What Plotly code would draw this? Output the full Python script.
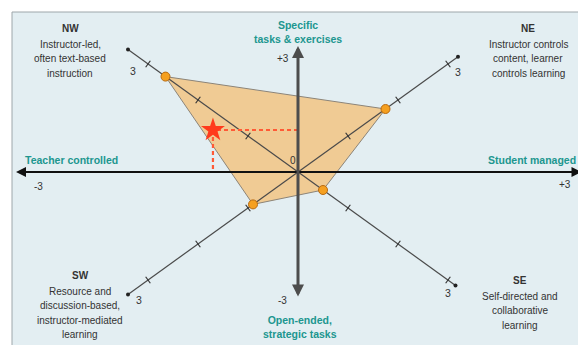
import numpy as np
import plotly.graph_objects as go

# ======================== DATA ========================
# learner-profile scores on the four diagonal axes (0..3)
quadrants = ["NW", "NE", "SE", "SW"]
profile = [2.65, 1.75, 0.5, 0.9]
diag_ticks = [1, 2, 3]

# main axes position of the star (teacher/student, open/specific)
star_x = [-0.9]
star_y = [1.0]

quad_titles = {"NW": "NW", "NE": "NE", "SE": "SE", "SW": "SW"}
quad_text = {
    "NW": ["Instructor-led,", "often text-based", "instruction"],
    "NE": ["Instructor controls", "content, learner", "controls learning"],
    "SE": ["Self-directed and", "collaborative", "learning"],
    "SW": ["Resource and", "discussion-based,", "instructor-mediated", "learning"],
}
axis_titles = {
    "top": "Specific<br>tasks & exercises",
    "bottom": "Open-ended,<br>strategic tasks",
    "left": "Teacher controlled",
    "right": "Student managed",
}

# ======================== GEOMETRY ========================
W, H = 586, 345
PAD = 8                    # page body margin, compensated in the axis ranges
CX, CY = 298, 172          # origin in pixels
HX, VY = 94.5, 42          # pixels per unit on horizontal / vertical axis
DX, DY = 50, 36            # pixels per unit on diagonal axes
sign = {"NW": (-1, -1), "NE": (1, -1), "SE": (1, 1), "SW": (-1, 1)}
diag_end = {"NW": 3.4, "NE": 3.2, "SE": 3.15, "SW": 3.4}

TEAL = "#20968f"
INK = "#333333"
FONT = "Liberation Sans, Arial, sans-serif"


def diag(q, v):
    sx, sy = sign[q]
    return CX + sx * DX * v, CY + sy * DY * v


fig = go.Figure()

# background panel
fig.add_shape(type="rect", x0=12, y0=12, x1=W + 5, y1=H + 5,
              fillcolor="#e3eef2", line=dict(color="#9ea6aa", width=1), layer="below")

# profile polygon
px_, py_ = zip(*[diag(q, v) for q, v in zip(quadrants, profile)])
fig.add_trace(go.Scatter(x=list(px_) + [px_[0]], y=list(py_) + [py_[0]], mode="lines",
                         fill="toself", fillcolor="#f0cb94",
                         line=dict(color="#8c8478", width=1), hoverinfo="skip"))

# diagonal axes
for a, b in [("NW", "SE"), ("NE", "SW")]:
    x0, y0 = diag(a, diag_end[a])
    x1, y1 = diag(b, diag_end[b])
    fig.add_trace(go.Scatter(x=[x0, x1], y=[y0, y1], mode="lines+markers",
                             line=dict(color="#4a4a4a", width=1.2),
                             marker=dict(size=4, color="#222"), hoverinfo="skip"))

# diagonal ticks (perpendicular to each axis)
n = np.hypot(DX, DY)
for q in quadrants:
    sx, sy = sign[q]
    ux, uy = -sy * DY / n, sx * DX / n
    for t in diag_ticks:
        x, y = diag(q, t)
        fig.add_trace(go.Scatter(x=[x - 4 * ux, x + 4 * ux], y=[y - 4 * uy, y + 4 * uy],
                                 mode="lines", line=dict(color="#333", width=1.2),
                                 hoverinfo="skip"))

# main axes (double-headed arrows)
fig.add_annotation(x=CX + 3 * HX, y=CY, ax=CX - 3 * HX, ay=CY, xref="x", yref="y",
                   axref="x", ayref="y", showarrow=True, arrowside="end+start",
                   arrowhead=2, startarrowhead=2, arrowsize=1, startarrowsize=1,
                   arrowwidth=2, arrowcolor="#111", text="")
fig.add_annotation(x=CX, y=CY - 3 * VY, ax=CX, ay=CY + 3 * VY, xref="x", yref="y",
                   axref="x", ayref="y", showarrow=True, arrowside="end+start",
                   arrowhead=2, startarrowhead=2, arrowsize=0.8, startarrowsize=0.8,
                   arrowwidth=3, arrowcolor="#4d4d4d", text="")

# dashed guides to the star
sxp = CX + star_x[0] * HX
syp = CY - star_y[0] * VY
fig.add_trace(go.Scatter(x=[CX, sxp], y=[syp, syp], mode="lines",
                         line=dict(color="#ff5a36", width=2.2, dash="4px,3px"), hoverinfo="skip"))
fig.add_trace(go.Scatter(x=[sxp, sxp], y=[syp, CY], mode="lines",
                         line=dict(color="#ff5a36", width=2.2, dash="4px,3px"), hoverinfo="skip"))

# profile points
fig.add_trace(go.Scatter(x=px_, y=py_, mode="markers",
                         marker=dict(size=9, color="#f5a020", line=dict(color="#b86a10", width=1)),
                         hoverinfo="skip"))

# star
fig.add_trace(go.Scatter(x=[sxp], y=[syp], mode="markers",
                         marker=dict(symbol="star", size=18, color="#ff3a1c",
                                     line=dict(width=0)), hoverinfo="skip"))

# ---------- text ----------
def txt(x, y, s, color=INK, size=10, bold=False, align="center", xanchor="center"):
    if bold:
        s = "<b>" + s + "</b>"
    fig.add_annotation(x=x, y=y, text=s, showarrow=False, xref="x", yref="y",
                       font=dict(family=FONT, size=size, color=color),
                       align=align, xanchor=xanchor, yanchor="middle")

quad_pos = {"NW": (70, 28), "NE": (528, 28), "SE": (520, 280), "SW": (80, 275)}
for q in quadrants:
    x, y = quad_pos[q]
    txt(x, y, quad_titles[q], bold=True)
    for i, line in enumerate(quad_text[q]):
        txt(x, y + 16 + i * 14.5, line)

txt(CX, 32, axis_titles["top"], color=TEAL, size=10.5, bold=True)
txt(CX + 2, 327, axis_titles["bottom"], color=TEAL, size=10.5, bold=True)
txt(23, 160, axis_titles["left"], color=TEAL, size=10.5, bold=True, xanchor="left")
txt(578, 160, axis_titles["right"], color=TEAL, size=10.5, bold=True, xanchor="right")

txt(283, 58, "+3")
txt(282, 300, "-3")
txt(38, 186, "-3")
txt(565, 184, "+3")
txt(293, 160, "0")

label3 = {"NW": (133, 71), "NE": (458, 72), "SE": (448, 293), "SW": (139, 300)}
for q in quadrants:
    x, y = label3[q]
    txt(x, y, "3", size=10.5)

fig.update_layout(
    width=W - PAD, height=H - PAD,
    margin=dict(l=0, r=0, t=0, b=0),
    paper_bgcolor="white",
    plot_bgcolor="white",
    showlegend=False,
    xaxis=dict(range=[PAD, W], visible=False, fixedrange=True),
    yaxis=dict(range=[H, PAD], visible=False, fixedrange=True),
)

fig.write_html("out.html")
